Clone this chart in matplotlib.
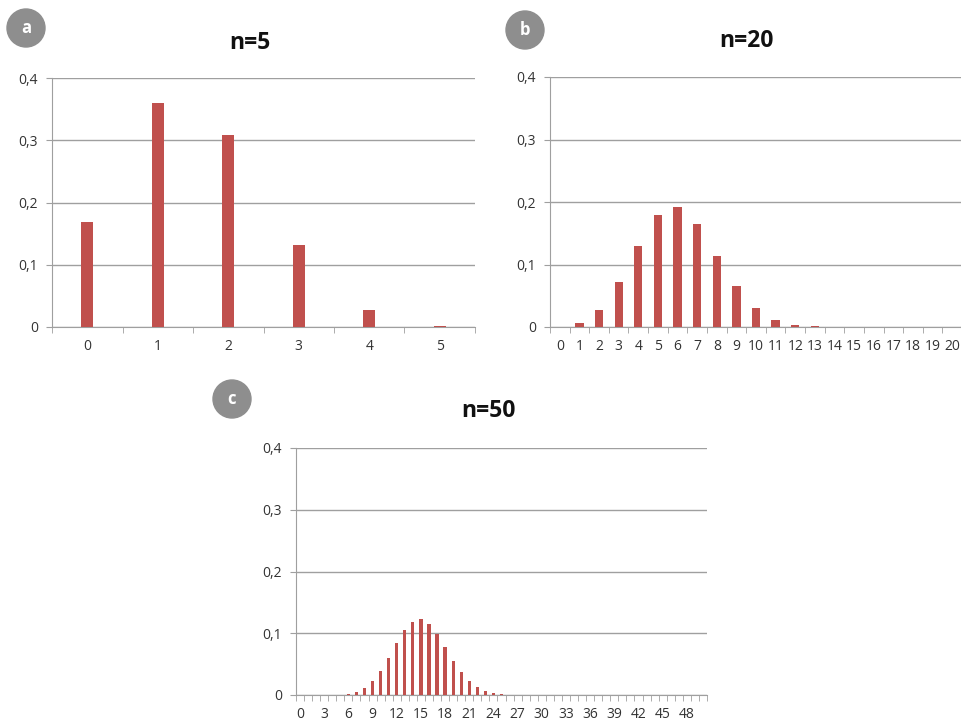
import numpy as np
import matplotlib.pyplot as plt
from matplotlib.patches import Circle
from matplotlib.ticker import FixedLocator

plt.rcParams['font.family'] = ['Open Sans', 'DejaVu Sans']

# values (probabilities per k)
k5 = list(range(6))
p5 = [0.168, 0.360, 0.309, 0.132, 0.028, 0.002]

k20 = list(range(21))
p20 = [0.0008, 0.0068, 0.0278, 0.0716, 0.1304, 0.1789, 0.1916, 0.1643, 0.1144,
       0.0654, 0.0308, 0.0120, 0.0039, 0.0010, 0.0002, 0.0, 0.0, 0.0, 0.0, 0.0, 0.0]

k50 = list(range(51))
p50 = [0.0, 0.0, 0.0, 0.0, 0.0001, 0.0006, 0.0018, 0.0048, 0.0110, 0.0219,
       0.0386, 0.0607, 0.0838, 0.1050, 0.1189, 0.1223, 0.1147, 0.0983, 0.0772, 0.0558,
       0.0370, 0.0227, 0.0128, 0.0067, 0.0032, 0.0014, 0.0006, 0.0002, 0.0001, 0.0,
       0.0, 0.0, 0.0, 0.0, 0.0, 0.0, 0.0, 0.0, 0.0, 0.0,
       0.0, 0.0, 0.0, 0.0, 0.0, 0.0, 0.0, 0.0, 0.0, 0.0, 0.0]

yticks = [0, 0.1, 0.2, 0.3, 0.4]
ylabels = ['0', '0,1', '0,2', '0,3', '0,4']

BAR = '#c0504d'
GRID = '#9f9f9f'
W, H = 962, 725

fig = plt.figure(figsize=(W / 100, H / 100), dpi=100)


def px_axes(left, top, right, bottom):
    return fig.add_axes([left / W, 1 - bottom / H, (right - left) / W, (bottom - top) / H])


def panel(ax, ks, ps, width, label_step, xsize, title, title_xy, badge, badge_xy):
    ax.bar(ks, ps, width=width, color=BAR, zorder=3)
    ax.set_xlim(-0.5, len(ks) - 0.5)
    ax.set_ylim(0, 0.4)
    ax.set_yticks(yticks)
    ax.set_yticklabels(ylabels)
    ax.yaxis.grid(True, color=GRID, linewidth=1.0, zorder=0)
    ax.set_xticks(ks[::label_step])
    ax.set_xticklabels([str(k) for k in ks[::label_step]])
    ax.xaxis.set_minor_locator(FixedLocator(np.arange(-0.5, len(ks), 1.0)))
    for s in ['top', 'right']:
        ax.spines[s].set_visible(False)
    for s in ['left', 'bottom']:
        ax.spines[s].set_color(GRID)
    ax.tick_params(axis='x', which='major', length=0, pad=9, labelsize=xsize, colors='#333333')
    ax.tick_params(axis='x', which='minor', length=4, color=GRID, direction='out')
    ax.tick_params(axis='y', length=4, color=GRID, pad=6, labelsize=10, colors='#333333')
    fig.text(title_xy[0] / W, 1 - title_xy[1] / H, title, ha='center', va='center',
             fontsize=16.5, fontweight='bold', color='#111111')
    c = Circle((badge_xy[0] / 100, (H - badge_xy[1]) / 100), 0.19,
               transform=fig.dpi_scale_trans, color='#8e8e8e')
    fig.add_artist(c)
    fig.text(badge_xy[0] / W, 1 - badge_xy[1] / H, badge, ha='center', va='center',
             fontsize=12, fontweight='bold', color='white')


ax1 = px_axes(52, 78, 475, 327)
panel(ax1, k5, p5, 0.17, 1, 10, 'n=5', (250, 43), 'a', (26, 28))

ax2 = px_axes(550, 77, 962, 327)
panel(ax2, k20, p20, 0.42, 1, 10, 'n=20', (746, 41), 'b', (525, 30))

ax3 = px_axes(296, 448, 707, 695)
panel(ax3, k50, p50, 0.4, 3, 10, 'n=50', (488, 411), 'c', (232, 399))

fig.savefig('out.png', dpi=100)
